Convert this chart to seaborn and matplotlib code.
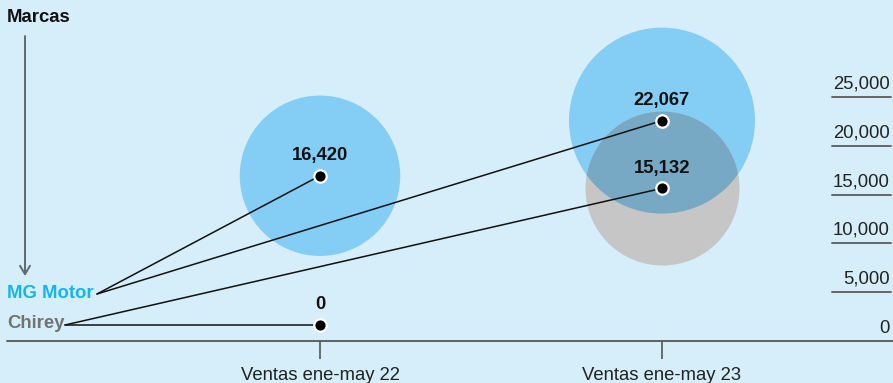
import numpy as np
import pandas as pd
import matplotlib
matplotlib.use("Agg")
import matplotlib.pyplot as plt
import matplotlib.transforms as mtransforms
from matplotlib.patches import Circle
import seaborn as sns

# ---- data ----
periods = ["Ventas ene-may 22", "Ventas ene-may 23"]
brands = ["MG Motor", "Chirey"]
mg_values = [16420, 22067]
chirey_values = [0, 15132]
ytick_values = [0, 5000, 10000, 15000, 20000, 25000]
ytick_labels = ["0", "5,000", "10,000", "15,000", "20,000", "25,000"]

# ---- style ----
BG = "#d5eefa"
BLUE = "#84cdf5"
GRAY = "#c6c6c6"
OVERLAP = "#77a9c4"
MG_TXT = "#16b4ef"
CH_TXT = "#727272"
FS = 13.3

sns.set_theme(style="white")
plt.rcParams["font.family"] = ["Liberation Sans", "DejaVu Sans"]

W, H, DPI = 893, 383, 100
fig = plt.figure(figsize=(W / DPI, H / DPI), dpi=DPI, facecolor=BG)
ax = fig.add_axes([0, 42 / H, 1, (H - 42) / H])
ax.set_facecolor(BG)

rows = []
for i, p in enumerate(periods):
    rows.append({"periodo": i, "marca": "MG Motor", "ventas": mg_values[i]})
    rows.append({"periodo": i, "marca": "Chirey", "ventas": chirey_values[i]})
df = pd.DataFrame(rows)

ax.set_xlim(-320 / 342, (W - 320) / 342)
ax.set_ylim(-512, 34426)

vmax = max(mg_values + chirey_values)
SMAX = (2 * 93 * 0.72) ** 2  # marker area (pt^2) for the largest bubble

def size_of(v):
    return SMAX * v / vmax

mg_df = df[df.marca == "MG Motor"]
ch_df = df[(df.marca == "Chirey") & (df.ventas > 0)]

sns.scatterplot(data=mg_df, x="periodo", y="ventas", size="ventas",
                sizes=(0, SMAX), size_norm=(0, vmax), color=BLUE,
                linewidth=0, legend=False, ax=ax, zorder=1)
sns.scatterplot(data=ch_df, x="periodo", y="ventas", size="ventas",
                sizes=(0, SMAX), size_norm=(0, vmax), color=GRAY,
                linewidth=0, legend=False, ax=ax, zorder=2)
# overlap region (gray bubble clipped to blue bubbles)
n_before = len(ax.collections)
sns.scatterplot(data=ch_df, x="periodo", y="ventas", size="ventas",
                sizes=(0, SMAX), size_norm=(0, vmax), color=OVERLAP,
                linewidth=0, legend=False, ax=ax, zorder=3)
ov = ax.collections[n_before]
i_big = int(np.argmax(mg_values))
r_in = np.sqrt(size_of(mg_values[i_big])) / 2 / 72
clip = Circle((0, 0), r_in,
              transform=fig.dpi_scale_trans +
              mtransforms.ScaledTranslation(i_big, mg_values[i_big], ax.transData))
ov.set_clip_path(clip)

# dots (zero values lifted slightly above the baseline)
lift = mtransforms.ScaledTranslation(0, 11 / DPI, fig.dpi_scale_trans)
anchors = {"MG Motor": (97, H - 294), "Chirey": (65, H - 325)}
for brand, vals in (("MG Motor", mg_values), ("Chirey", chirey_values)):
    for i, v in enumerate(vals):
        tr = ax.transData + lift if v == 0 else ax.transData
        ax.scatter([i], [v], s=80, color="black", edgecolor="white",
                   linewidth=1.6, zorder=6, transform=tr)
        ax.annotate("", xy=(i, v), xycoords=tr,
                    xytext=anchors[brand], textcoords="figure pixels",
                    arrowprops=dict(arrowstyle="-", color="#111111", lw=1.1,
                                    shrinkA=0, shrinkB=0), zorder=5)
        ax.annotate(f"{v:,}", xy=(i, v), xycoords=tr, xytext=(0, 8.5),
                    textcoords="offset points", ha="center", va="bottom",
                    fontsize=FS, fontweight="bold", color="#111111", zorder=7)

# right-hand value scale
ylab_tr = mtransforms.blended_transform_factory(ax.transAxes, ax.transData)
for v, lab in zip(ytick_values, ytick_labels):
    ax.text(890 / W, v, lab, transform=ylab_tr + mtransforms.ScaledTranslation(0, 8 / DPI, fig.dpi_scale_trans),
            ha="right", va="center", fontsize=FS, color="#222222")
    if v > 0:
        ax.plot([832 / W, 891 / W], [v, v], color="#666666", lw=1.4,
                transform=ylab_tr + mtransforms.ScaledTranslation(0, -5 / DPI, fig.dpi_scale_trans),
                clip_on=False)

# baseline
ax.plot([7 / W, 1], [0, 0], transform=ax.transAxes, color="#555555", lw=1.3, clip_on=False)

# axes styling
for s in ax.spines.values():
    s.set_visible(False)
ax.set_yticks([])
ax.set_xticks(range(len(periods)))
ax.set_xticklabels(periods, fontsize=FS, color="#222222")
ax.tick_params(axis="x", direction="out", length=13, width=1.2, color="#555555", pad=6, bottom=True)
ax.set_xlabel("")
ax.set_ylabel("")

# left annotations
fig.text(7 / W, (H - 18) / H, "Marcas", fontsize=FS, fontweight="bold", color="#111111", va="center", ha="left")
fig.text(7 / W, (H - 294) / H, "MG Motor", fontsize=FS, fontweight="bold", color=MG_TXT, va="center", ha="left")
fig.text(7 / W, (H - 323) / H, "Chirey", fontsize=FS, fontweight="bold", color=CH_TXT, va="center", ha="left")
ax.annotate("", xy=(25, H - 276), xycoords="figure pixels", xytext=(25, H - 36), textcoords="figure pixels",
            arrowprops=dict(arrowstyle="->,head_length=0.5,head_width=0.3", color="#5d6870", lw=1.4,
                            shrinkA=0, shrinkB=0))

fig.savefig("out.png", dpi=DPI, facecolor=BG)
